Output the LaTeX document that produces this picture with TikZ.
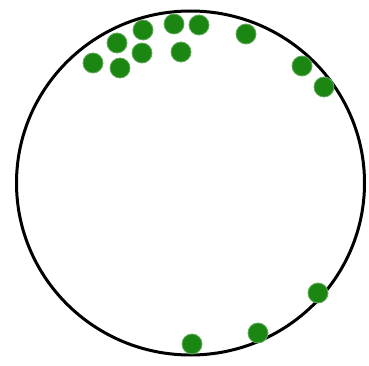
\documentclass[tikz,border=0pt]{standalone}
\definecolor{dotgreen}{RGB}{28,134,18}
\tikzset{dot/.style={fill=dotgreen,draw=dotgreen!70!white,line width=0.8pt}}
\begin{document}
\begin{tikzpicture}[x=1pt,y=-1pt]
\useasboundingbox (0,0) rectangle (369,366);
\fill[white] (0,0) rectangle (369,366);
\draw[line width=3pt] (190.5,183) ellipse [x radius=174, y radius=172];
\foreach \px/\py in {93/63,117/43,120/68,143/30,142/53,174/24,199/25,181/52,246/34,302/66,324/87,318/293,258/333,192/344}
  \fill[dot] (\px,\py) circle (10);
\end{tikzpicture}
\end{document}
